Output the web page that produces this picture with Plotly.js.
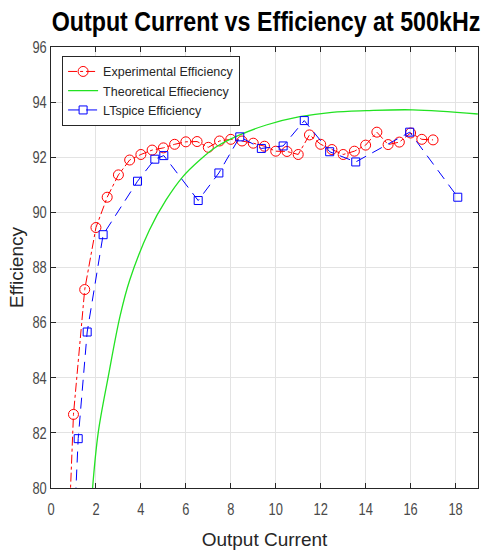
<!DOCTYPE html>
<html>
<head>
<meta charset="utf-8">
<script src="https://cdn.plot.ly/plotly-3.0.1.min.js"></script>
<style>html,body{margin:0;padding:0;background:#fff;}#chart{width:483px;height:555px;}</style>
</head>
<body>
<div id="chart"></div>
<script>
// Experimental efficiency (red, dash-dot, open circles)
const expCurrent = [0.5, 1, 1.5, 2, 2.5, 3, 3.5, 4, 4.5, 5, 5.5, 6, 6.5, 7, 7.5, 8, 8.5, 9, 9.5, 10, 10.5, 11, 11.5, 12, 12.5, 13, 13.5, 14, 14.5, 15, 15.5, 16, 16.5, 17];
const expEfficiency = [72.4, 82.67, 87.2, 89.45, 90.55, 91.36, 91.9, 92.1, 92.26, 92.34, 92.47, 92.56, 92.57, 92.36, 92.59, 92.65, 92.59, 92.51, 92.4, 92.22, 92.21, 92.1, 92.81, 92.47, 92.28, 92.1, 92.22, 92.44, 92.91, 92.46, 92.55, 92.88, 92.65, 92.63];

// Theoretical efficiency (green, solid)
const theoCurrent = [1.85, 2.1, 2.55, 3.07, 3.5, 4.38, 5.12, 5.86, 6.62, 7.36, 8.4, 9.58, 11.07, 12.5, 14.03, 16.1, 18.99];
const theoEfficiency = [80.0, 82.0, 84.05, 86.23, 87.54, 89.36, 90.45, 91.29, 91.9, 92.38, 92.81, 93.17, 93.47, 93.63, 93.69, 93.72, 93.57];

// LTspice efficiency (blue, dashed, open squares)
const ltCurrent = [0.8, 1.21, 1.61, 2.32, 3.85, 4.62, 5.02, 6.55, 7.47, 8.4, 9.36, 10.33, 11.27, 12.4, 13.56, 15.96, 18.1];
const ltEfficiency = [74.4, 81.79, 85.66, 89.19, 91.13, 91.93, 92.06, 90.43, 91.43, 92.74, 92.32, 92.41, 93.33, 92.2, 91.83, 92.91, 90.55];

const xTicks = [0, 2, 4, 6, 8, 10, 12, 14, 16, 18];
const yTicks = [80, 82, 84, 86, 88, 90, 92, 94, 96];

const SANS = "'Liberation Sans', Arial, Helvetica, sans-serif";

const traces = [
  {
    x: expCurrent, y: expEfficiency, type: 'scatter', mode: 'lines+markers',
    name: 'Experimental Efficiency',
    line: {color: '#ff0000', width: 1, dash: 'dashdot'},
    marker: {symbol: 'circle-open', size: 10, color: '#ff0000', line: {width: 1, color: '#ff0000'}}
  },
  {
    x: theoCurrent, y: theoEfficiency, type: 'scatter', mode: 'lines',
    name: 'Theoretical Effieciency',
    line: {color: '#22e222', width: 1.3, shape: 'spline', smoothing: 1}
  },
  {
    x: ltCurrent, y: ltEfficiency, type: 'scatter', mode: 'lines+markers',
    name: 'LTspice Efficiency',
    line: {color: '#0000ff', width: 1, dash: '11px,7px'},
    marker: {symbol: 'square-open', size: 8, color: '#0000ff', line: {width: 1, color: '#0000ff'}}
  }
];

const axisCommon = {
  showline: true, linecolor: '#262626', linewidth: 1, mirror: 'ticks',
  ticks: 'inside', ticklen: 5, tickcolor: '#262626', tickwidth: 1,
  showgrid: true, gridcolor: '#e3e3e3', gridwidth: 1, zeroline: false,
  tickfont: {family: SANS, size: 16.5, color: '#4a4a4a'}
};

const layout = {
  width: 483, height: 555,
  margin: {l: 51, r: 5, t: 47, b: 67, pad: 0},
  paper_bgcolor: '#ffffff', plot_bgcolor: '#ffffff',
  title: {
    text: '<b>Output Current vs Efficiency at 500kHz</b>',
    font: {family: SANS, size: 28, color: '#000000'},
    x: 0.5, xanchor: 'center', y: 0.962, yanchor: 'middle', xref: 'paper', yref: 'container'
  },
  xaxis: Object.assign({}, axisCommon, {
    range: [0, 19], tickvals: xTicks, ticktext: xTicks.map(String), ticklabelstandoff: 6,
    title: {text: 'Output Current', font: {family: SANS, size: 19, color: '#262626'}, standoff: 15}
  }),
  yaxis: Object.assign({}, axisCommon, {
    range: [80, 96], tickvals: yTicks, ticktext: yTicks.map(String),
    title: {text: 'Efficiency', font: {family: SANS, size: 19, color: '#262626'}, standoff: 3}
  }),
  legend: {
    x: 0.026, y: 0.98, xanchor: 'left', yanchor: 'top',
    bgcolor: '#ffffff', bordercolor: '#262626', borderwidth: 1,
    font: {family: SANS, size: 12.5, color: '#262626'}
  },
  showlegend: true
};

// Condense text horizontally around its own centre, then move that centre to targetX (screen px)
function squish(el, s, targetX, dy) {
  if (!el) return;
  const bb = el.getBBox();
  const r = el.getBoundingClientRect();
  const cxL = bb.x + bb.width / 2;
  const screenCx = r.left + r.width / 2;
  const dx = (targetX === undefined || targetX === null) ? 0 : targetX - screenCx;
  const tr = el.getAttribute('transform') || '';
  el.setAttribute('transform', tr + ' translate(' + dx + ',' + (dy || 0) + ') translate(' + cxL + ',0) scale(' + s + ',1) translate(' + (-cxL) + ',0)');
}
function squishAnchor(el, s) {
  const x = parseFloat(el.getAttribute('x')) || 0;
  const y = parseFloat(el.getAttribute('y')) || 0;
  const tr = el.getAttribute('transform') || '';
  el.setAttribute('transform', tr + ' translate(' + x + ',' + y + ') scale(' + s + ',1) translate(' + (-x) + ',' + (-y) + ')');
}

Plotly.newPlot('chart', traces, layout, {staticPlot: true, displayModeBar: false}).then(function (gd) {
  squish(gd.querySelector('.gtitle'), 0.83, 266, 0);
  gd.querySelectorAll('.xtick text, .ytick text').forEach(function (t) { squishAnchor(t, 0.78); });
  const yt = gd.querySelector('.ytitle');
  if (yt) {
    const tr = yt.getAttribute('transform') || '';
    yt.setAttribute('transform', 'translate(4,0) ' + tr);
  }
});
</script>
</body>
</html>
